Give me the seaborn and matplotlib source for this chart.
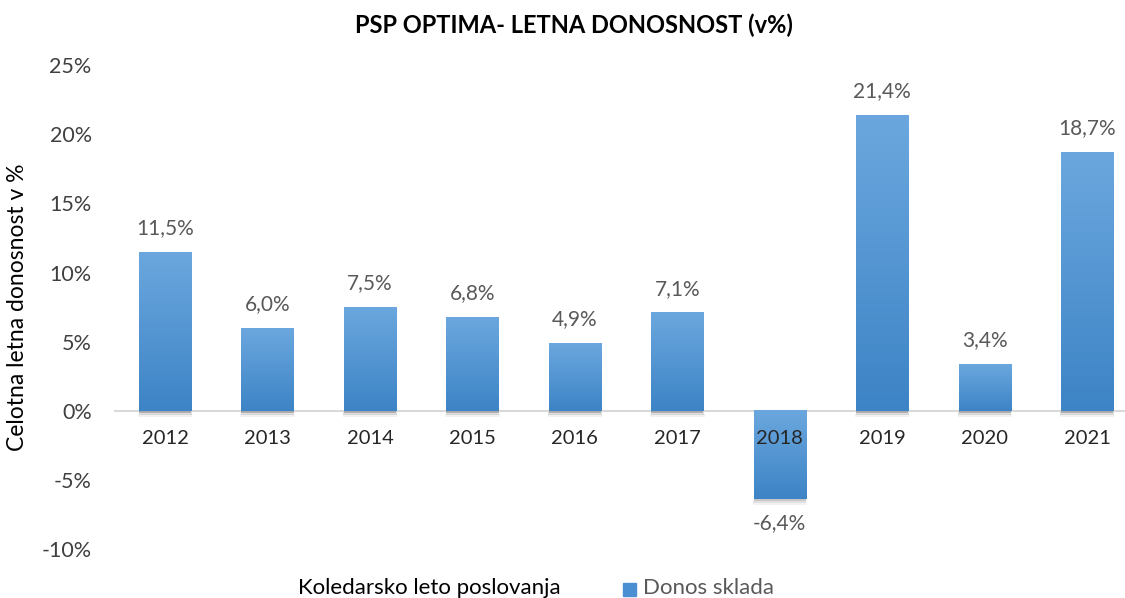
import numpy as np
import pandas as pd
import seaborn as sns
import matplotlib.pyplot as plt
from matplotlib.colors import LinearSegmentedColormap
from matplotlib.patches import Rectangle

years = ["2012", "2013", "2014", "2015", "2016", "2017", "2018", "2019", "2020", "2021"]
returns = [11.5, 6.0, 7.5, 6.8, 4.9, 7.1, -6.4, 21.4, 3.4, 18.7]
y_ticks = [-10, -5, 0, 5, 10, 15, 20, 25]

df = pd.DataFrame({"leto": years, "donos": returns})

sns.set_style("white")
plt.rcParams["font.family"] = ["Lato", "DejaVu Sans"]

fig = plt.figure(figsize=(11.25, 5.98), dpi=100)
ax = fig.add_axes([0.1013, 0.082, 0.8987, 0.809])

sns.barplot(data=df, x="leto", y="donos", color="#4a8fd2", width=0.51, ax=ax,
            zorder=2)

grad = LinearSegmentedColormap.from_list("bar", ["#3d84c6", "#6ba7de"])
for p in ax.patches:
    x0, w = p.get_x(), p.get_width()
    y0, h = p.get_y(), p.get_height()
    lo, hi = min(y0, y0 + h), max(y0, y0 + h)
    ax.imshow(np.linspace(0, 1, 100).reshape(-1, 1), cmap=grad, origin="lower",
              extent=[x0, x0 + w, lo, hi], aspect="auto", zorder=3)
    # soft shadow under the bar
    for k, a in enumerate([0.22, 0.12, 0.05]):
        ax.add_patch(Rectangle((x0 - 0.005 * k, lo - 0.14 * (k + 1)), w + 0.01 * k, 0.16,
                               color="black", alpha=a, lw=0, zorder=2.7))
    p.set_visible(False)

for i, v in enumerate(returns):
    lbl = f"{v:.1f}%".replace(".", ",")
    if v >= 0:
        ax.text(i, v + 1.0, lbl, ha="center", va="bottom", fontsize=15, color="#595959")
    else:
        ax.text(i, v - 1.0, lbl, ha="center", va="top", fontsize=15, color="#595959")

ax.axhline(0, color="#d9d9d9", lw=1.5, zorder=2.5)
ax.set_xlim(-0.5, 9.37)
ax.set_ylim(-10, 25)
ax.set_yticks(y_ticks)
ax.set_yticklabels([f"{t}%" for t in y_ticks], fontsize=15.5, color="#404040")
ax.tick_params(axis="y", length=0, pad=16)
ax.set_xticks(range(len(years)))
ax.set_xticklabels([])
ax.tick_params(axis="x", length=0)
# year labels sit just under the zero line, on top of the 2018 bar
for i, yr in enumerate(years):
    ax.text(i, -1.4, yr, ha="center", va="top", fontsize=14.5, color="#262626", zorder=6)

ax.set_xlabel("")
ax.set_ylabel("")
sns.despine(ax=ax, left=True, bottom=True)

fig.text(0.51, 0.957, "PSP OPTIMA- LETNA DONOSNOST (v%)", ha="center", va="center",
         fontsize=17, fontweight="bold", color="black")
fig.text(0.016, 0.487, "Celotna letna donosnost v %", rotation=90, ha="center", va="center",
         fontsize=16.5, color="black")
fig.text(0.265, 0.017, "Koledarsko leto poslovanja", ha="left", va="center",
         fontsize=16, color="black")
fig.patches.append(Rectangle((0.5538, 0.004), 0.0116, 0.0217, transform=fig.transFigure,
                             color="#4a8fd2", figure=fig))
fig.text(0.5716, 0.017, "Donos sklada", ha="left", va="center", fontsize=16, color="#595959")

fig.savefig("out.png", dpi=100)
